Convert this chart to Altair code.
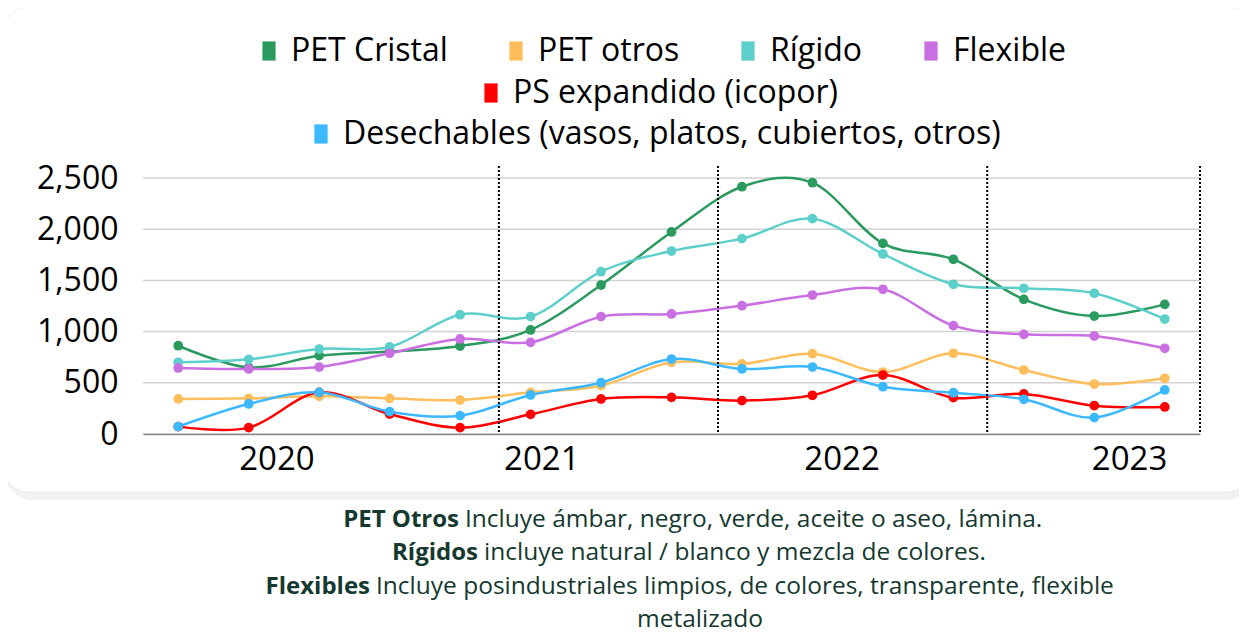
import altair as alt
import pandas as pd

# ---------------- data ----------------
periods = list(range(15))
series_names = ["PET Cristal", "PET otros", "Rígido", "Flexible",
                "PS expandido (icopor)",
                "Desechables (vasos, platos, cubiertos, otros)"]
series_colors = ["#2a9a5f", "#ffbe5c", "#5dcfca", "#c96fe2", "#ff0000", "#3cb8ff"]

pet_cristal = [862, 650, 765, 805, 859, 1016, 1455, 1973, 2415, 2454, 1862, 1706, 1315, 1152, 1266]
pet_otros = [342, 348, 368, 348, 332, 407, 472, 700, 684, 784, 605, 788, 625, 488, 544]
rigido = [700, 729, 830, 850, 1165, 1146, 1585, 1787, 1908, 2103, 1758, 1462, 1423, 1374, 1123]
flexible = [645, 635, 654, 788, 928, 895, 1146, 1172, 1253, 1357, 1413, 1058, 973, 957, 837]
ps_expandido = [72, 62, 407, 195, 62, 192, 342, 358, 326, 378, 576, 355, 391, 277, 264]
desechables = [72, 293, 407, 218, 179, 381, 501, 732, 635, 654, 462, 403, 339, 160, 430]

years = ["2020", "2021", "2022", "2023"]
year_label_at = [1.4, 5.16, 9.42, 13.5]
year_separators = [4.55, 7.66, 11.48, 14.5]
y_ticks = [0, 500, 1000, 1500, 2000, 2500]

notes_bold = ["PET Otros", "Rígidos", "Flexibles"]
notes_text = ["Incluye ámbar, negro, verde, aceite o aseo, lámina.",
              "incluye natural / blanco y mezcla de colores.",
              "Incluye posindustriales limpios, de colores, transparente, flexible"]
notes_last = "metalizado"

# ---------------- tables ----------------
all_values = [pet_cristal, pet_otros, rigido, flexible, ps_expandido, desechables]
rows = []
for name, vals in zip(series_names, all_values):
    for p, v in zip(periods, vals):
        rows.append({"periodo": p, "valor": v, "serie": name, "orden": series_names.index(name)})
df = pd.DataFrame(rows)
years_df = pd.DataFrame({"anio": years, "periodo": year_label_at})
sep_df = pd.DataFrame({"periodo": year_separators})
grid_df = pd.DataFrame({"valor": y_ticks})

FONT = "Open Sans"
NOTE_COLOR = "#15392f"

x_enc = alt.X("periodo:Q",
              scale=alt.Scale(domain=[-0.5, 14.5], nice=False, zero=False),
              axis=alt.Axis(labels=False, ticks=False, grid=False, title=None,
                            domainColor="#8a8a8a", domainWidth=1.5, zindex=1))
y_enc = alt.Y("valor:Q",
              scale=alt.Scale(domain=[0, 2500], nice=False),
              axis=alt.Axis(values=y_ticks, title=None, ticks=False,
                            labelExpr="format(datum.value, ',')",
                            domain=False, grid=False, zindex=1,
                            labelFontSize=32, labelPadding=25, labelColor="#000000",
                            labelFont=FONT))

# card background
shadow = alt.Chart(years_df.head(1)).mark_rect(
    fill="#f1f1f1", cornerRadius=26).encode(
    x=alt.value(-137), x2=alt.value(1110), y=alt.value(-168), y2=alt.value(322))
card = alt.Chart(years_df.head(1)).mark_rect(
    fill="#ffffff", stroke="#ececec", strokeWidth=1, cornerRadius=26).encode(
    x=alt.value(-140), x2=alt.value(1110), y=alt.value(-171), y2=alt.value(314))

grid = alt.Chart(grid_df).mark_rule(color="#d2d2d2", strokeWidth=1.5).encode(
    y=y_enc, x=alt.value(0), x2=alt.value(1057))

lines = alt.Chart(df).mark_line(interpolate="cardinal", strokeWidth=2.5).encode(
    x=x_enc, y=y_enc,
    stroke=alt.Stroke("serie:N", scale=alt.Scale(domain=series_names, range=series_colors),
                      legend=None),
    order="orden:Q",
)

SYMBOL = "M-1.1,-1.6H1.1V1.6H-1.1Z"


def legend_for(x, y):
    return alt.Legend(orient="none", legendX=x, legendY=y, direction="horizontal",
                      title=None, labelFontSize=32, labelFont=FONT, labelColor="#000000",
                      labelLimit=900,
                      symbolType=SYMBOL, symbolSize=144, symbolStrokeWidth=0,
                      symbolOpacity=1, labelOffset=6, columnPadding=52, padding=0)


def points(names, colors, lx, ly):
    sub = df[df["serie"].isin(names)]
    return alt.Chart(sub).mark_circle(size=95, opacity=1).encode(
        x=x_enc, y=y_enc,
        color=alt.Color("serie:N", scale=alt.Scale(domain=names, range=colors),
                        legend=legend_for(lx, ly)),
    )


pts1 = points(series_names[:4], series_colors[:4], 110, -143)
pts2 = points(series_names[4:5], series_colors[4:5], 332, -101)
pts3 = points(series_names[5:6], series_colors[5:6], 162, -60)

seps = alt.Chart(sep_df).mark_rule(color="#000000", strokeWidth=2, strokeDash=[2, 2]).encode(
    x=x_enc, y=alt.value(-12), y2=alt.value(256))

year_text = alt.Chart(years_df).mark_text(
    font=FONT, fontSize=33, color="#000000", baseline="middle", align="center").encode(
    x=x_enc, y=alt.value(282), text="anio:N")

note_layers = []
note_y = [342, 375, 409]
bold_right = [316, 335, 227]
for b, t, yy, xr in zip(notes_bold, notes_text, note_y, bold_right):
    d = pd.DataFrame({"b": [b], "t": [t]})
    note_layers.append(alt.Chart(d).mark_text(
        font=FONT, fontSize=24, fontWeight="bold", color=NOTE_COLOR,
        align="right", baseline="middle").encode(
        x=alt.value(xr), y=alt.value(yy), text="b:N"))
    note_layers.append(alt.Chart(d).mark_text(
        font=FONT, fontSize=24.5, color=NOTE_COLOR,
        align="left", baseline="middle").encode(
        x=alt.value(xr + 6), y=alt.value(yy), text="t:N"))
note_layers.append(alt.Chart(pd.DataFrame({"t": [notes_last]})).mark_text(
    font=FONT, fontSize=24.5, color=NOTE_COLOR, align="center", baseline="middle").encode(
    x=alt.value(557), y=alt.value(442), text="t:N"))

chart = alt.layer(
    shadow, card, grid, lines, seps, pts1, pts2, pts3, year_text, *note_layers
).resolve_scale(color="independent").resolve_legend(color="independent").properties(
    width=1057, height=256,
    autosize=alt.AutoSizeParams(type="none"),
    padding={"left": 135, "top": 170, "right": 39, "bottom": 200},
    background="#ffffff",
).configure_view(stroke=None).configure(font=FONT)

chart.save("out.html", embed_options={"renderer": "svg", "actions": False})
